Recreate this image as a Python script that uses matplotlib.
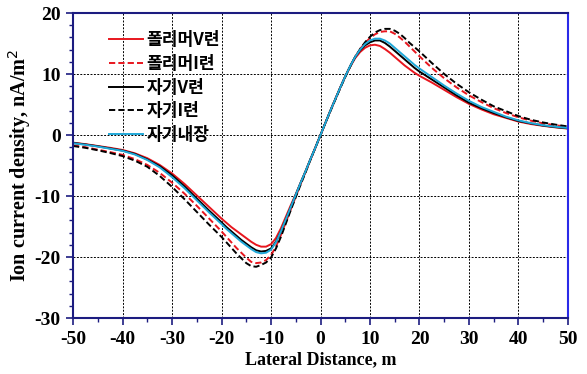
import numpy as np
import matplotlib
matplotlib.use("Agg")
import matplotlib.pyplot as plt
from matplotlib.ticker import MultipleLocator

plt.rcParams['axes.unicode_minus'] = False

## values: tails every 2.5 m, centre every 1 m
x = np.concatenate([np.arange(-50, -20, 2.5), np.arange(-20, 21, 1.0), np.arange(22.5, 50.01, 2.5)])

poly_v = [-1.25, -1.5, -1.8, -2.1, -2.45, -3.0, -3.8, -4.9, -6.3, -8.0, -9.9, -11.8,
          -13.7, -14.4, -15.1, -15.7, -16.3, -16.9, -17.5, -18.0, -18.3, -18.3, -17.9,
          -16.9, -15.3, -13.4, -11.5, -9.7, -7.8, -5.9, -3.9, -2.0, 0.0,
          2.0, 4.0, 5.9, 7.8, 9.6, 11.2, 12.6, 13.6, 14.3, 14.7,
          14.8, 14.6, 14.1, 13.5, 12.8, 12.1, 11.4, 10.8, 10.2, 9.7,
          8.6, 7.4, 6.2, 5.1, 4.2, 3.4, 2.8, 2.2, 1.8, 1.5, 1.25, 1.05]
poly_i = [-1.7, -2.0, -2.4, -2.8, -3.25, -3.95, -4.9, -6.2, -7.8, -9.6, -11.6, -13.7,
          -15.8, -16.7, -17.6, -18.5, -19.3, -20.1, -20.8, -21.0, -20.9, -20.5, -19.7,
          -18.3, -16.4, -14.3, -12.2, -10.1, -8.0, -6.0, -4.0, -2.0, 0.0,
          2.0, 4.0, 5.9, 7.8, 9.6, 11.3, 12.8, 14.1, 15.1, 15.9,
          16.5, 16.9, 17.0, 17.0, 16.6, 16.0, 15.3, 14.5, 13.7, 12.9,
          11.0, 9.3, 7.8, 6.5, 5.4, 4.4, 3.6, 2.9, 2.35, 1.9, 1.6, 1.35]
mag_v = [-1.3, -1.55, -1.85, -2.2, -2.55, -3.1, -4.0, -5.1, -6.6, -8.4, -10.4, -12.4,
         -14.3, -15.1, -15.8, -16.5, -17.2, -17.8, -18.4, -18.9, -19.1, -19.0, -18.6,
         -17.5, -15.8, -13.8, -11.8, -9.8, -7.8, -5.9, -3.9, -2.0, 0.0,
         2.0, 4.0, 5.9, 7.8, 9.6, 11.3, 12.8, 13.9, 14.7, 15.2,
         15.5, 15.5, 15.1, 14.5, 13.8, 13.1, 12.4, 11.7, 11.0, 10.4,
         9.1, 7.8, 6.5, 5.3, 4.4, 3.6, 2.9, 2.3, 1.9, 1.55, 1.3, 1.1]
mag_i = [-1.8, -2.1, -2.5, -2.95, -3.45, -4.2, -5.2, -6.7, -8.5, -10.5, -12.6, -14.7,
         -16.7, -17.6, -18.5, -19.4, -20.2, -21.0, -21.5, -21.6, -21.3, -20.9, -20.1,
         -18.6, -16.7, -14.5, -12.3, -10.2, -8.1, -6.1, -4.0, -2.0, 0.0,
         2.0, 3.9, 5.8, 7.7, 9.5, 11.2, 12.8, 14.1, 15.2, 16.1,
         16.8, 17.2, 17.4, 17.4, 17.1, 16.6, 15.9, 15.1, 14.4, 13.7,
         11.8, 10.0, 8.4, 7.0, 5.8, 4.7, 3.9, 3.1, 2.5, 2.05, 1.7, 1.4]
mag_in = [-1.35, -1.6, -1.9, -2.25, -2.6, -3.2, -4.1, -5.3, -6.9, -8.7, -10.7, -12.7,
          -14.6, -15.4, -16.1, -16.8, -17.5, -18.1, -18.7, -19.2, -19.4, -19.3, -18.8,
          -17.6, -15.8, -13.8, -11.8, -9.8, -7.8, -5.9, -3.9, -2.0, 0.0,
          2.0, 4.0, 5.9, 7.8, 9.6, 11.3, 12.8, 14.0, 14.9, 15.5,
          15.8, 15.8, 15.5, 15.0, 14.3, 13.6, 12.9, 12.2, 11.5, 10.9,
          9.5, 8.1, 6.8, 5.6, 4.6, 3.8, 3.0, 2.4, 1.95, 1.6, 1.35, 1.15]

labels = ["폴리머V련", "폴리머I련", "자기V련", "자기I련", "자기내장"]

fig = plt.figure(figsize=(5.87, 3.74), dpi=100)
ax = fig.add_axes([0.1244, 0.1497, 0.8432, 0.8155])

red, cyan = "#e8161e", "#1fa8d8"
dash = (0, (3.2, 1.6))
ax.plot(x, poly_v, color=red, lw=1.4, label=labels[0])
ax.plot(x, poly_i, color=red, lw=1.4, ls=dash, label=labels[1])
ax.plot(x, mag_v, color="black", lw=1.4, label=labels[2])
ax.plot(x, mag_i, color="black", lw=1.4, ls=dash, label=labels[3])
ax.plot(x, mag_in, color=cyan, lw=1.4, label=labels[4])

ax.set_xlim(-50, 50)
ax.set_ylim(-30, 20)
ax.xaxis.set_major_locator(MultipleLocator(10))
ax.xaxis.set_minor_locator(MultipleLocator(5))
ax.yaxis.set_major_locator(MultipleLocator(10))
ax.yaxis.set_minor_locator(MultipleLocator(2))
ax.grid(True, which="major", color="black", ls=(0, (2, 1.5)), lw=0.7)
ax.tick_params(which="both", direction="out", colors="#1c1c80", labelcolor="black")
ax.tick_params(which="major", length=5, width=1.2, pad=4)
ax.tick_params(which="minor", length=3, width=1.0)
for lab in ax.get_xticklabels() + ax.get_yticklabels():
    lab.set_fontfamily("Liberation Serif")
    lab.set_fontweight("bold")
    lab.set_fontsize(14)
for s in ["left", "bottom", "top"]:
    ax.spines[s].set_color("#1c1c80")
    ax.spines[s].set_linewidth(1.5)
ax.spines["right"].set_color("#2a2ae8")
ax.spines["right"].set_linewidth(1.5)

ax.set_xlabel("Lateral Distance, m", fontfamily="Liberation Serif", fontweight="bold", fontsize=13, labelpad=3)
ax.set_ylabel("Ion current density, nA/m$^2$", fontfamily="Liberation Serif", fontweight="bold",
              fontsize=14.5, labelpad=1)

leg = ax.legend(loc="upper left", bbox_to_anchor=(0.072, 0.94), frameon=False, borderpad=0,
                borderaxespad=0, handlelength=2.0, handletextpad=0.2, labelspacing=0.33,
                prop={"family": ["Noto Sans CJK KR", "DejaVu Sans"], "size": 12.3, "weight": "bold"})

fig.savefig("out.png", dpi=100)
